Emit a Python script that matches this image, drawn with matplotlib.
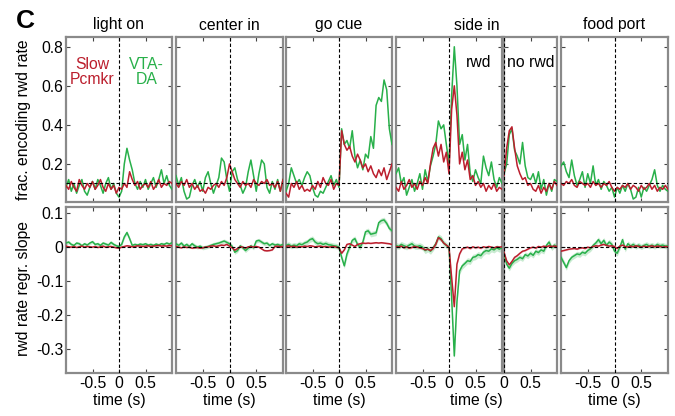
import numpy as np
import matplotlib
matplotlib.use("Agg")
import matplotlib.pyplot as plt

plt.rcParams['font.family'] = ['Liberation Sans', 'DejaVu Sans']

# ---------------- data ----------------
panel_titles = ["light on", "center in", "go cue", "side in", "food port"]
sub_labels = ["rwd", "no rwd"]
t_full = np.round(np.arange(-1.0, 1.0001, 0.05), 3)   # 41 samples
t_half = np.round(np.arange(0.0, 1.0001, 0.05), 3)    # 21 samples

# top row: fraction of neurons encoding reward rate
frac_green_light = [0.08, 0.12, 0.06, 0.10, 0.05, 0.09, 0.12, 0.06, 0.04, 0.08, 0.11, 0.07, 0.12, 0.09, 0.05, 0.10, 0.13, 0.07, 0.10, 0.05,
                    0.03, 0.06, 0.20, 0.28, 0.22, 0.17, 0.10, 0.07, 0.11, 0.08, 0.12, 0.07, 0.10, 0.13, 0.08, 0.12, 0.17, 0.10, 0.14, 0.09, 0.07]
frac_red_light = [0.09, 0.07, 0.11, 0.08, 0.06, 0.12, 0.09, 0.07, 0.10, 0.08, 0.11, 0.07, 0.09, 0.12, 0.08, 0.06, 0.10, 0.07, 0.09, 0.05,
                  0.08, 0.07, 0.10, 0.08, 0.16, 0.12, 0.09, 0.11, 0.07, 0.09, 0.10, 0.08, 0.11, 0.07, 0.09, 0.12, 0.08, 0.10, 0.09, 0.11, 0.10]
frac_green_center = [0.14, 0.09, 0.13, 0.06, 0.02, 0.03, 0.09, 0.12, 0.08, 0.11, 0.06, 0.13, 0.16, 0.10, 0.05, 0.09, 0.13, 0.23, 0.21, 0.12,
                     0.06, 0.16, 0.18, 0.12, 0.09, 0.05, 0.08, 0.16, 0.22, 0.14, 0.06, 0.15, 0.22, 0.20, 0.08, 0.05, 0.11, 0.07, 0.12, 0.06, 0.12]
frac_red_center = [0.10, 0.08, 0.11, 0.09, 0.12, 0.08, 0.10, 0.07, 0.09, 0.06, 0.07, 0.05, 0.08, 0.07, 0.09, 0.10, 0.08, 0.11, 0.09, 0.13,
                   0.20, 0.16, 0.12, 0.10, 0.08, 0.11, 0.09, 0.10, 0.08, 0.12, 0.10, 0.09, 0.11, 0.10, 0.12, 0.09, 0.10, 0.08, 0.11, 0.06, 0.12]
frac_green_go = [0.06, 0.10, 0.18, 0.14, 0.10, 0.12, 0.09, 0.13, 0.16, 0.14, 0.08, 0.04, 0.03, 0.06, 0.05, 0.08, 0.11, 0.14, 0.09, 0.12,
                 0.08, 0.38, 0.30, 0.32, 0.28, 0.37, 0.24, 0.18, 0.22, 0.17, 0.25, 0.23, 0.34, 0.28, 0.50, 0.54, 0.52, 0.63, 0.58, 0.38, 0.30]
frac_red_go = [0.05, 0.03, 0.10, 0.08, 0.11, 0.07, 0.09, 0.06, 0.07, 0.06, 0.09, 0.07, 0.11, 0.08, 0.13, 0.10, 0.09, 0.12, 0.07, 0.10,
               0.09, 0.37, 0.30, 0.27, 0.29, 0.24, 0.21, 0.25, 0.22, 0.18, 0.20, 0.16, 0.19, 0.15, 0.13, 0.17, 0.14, 0.18, 0.12, 0.16, 0.20]
frac_green_rwd = [0.15, 0.18, 0.10, 0.13, 0.04, 0.08, 0.12, 0.06, 0.10, 0.15, 0.07, 0.17, 0.11, 0.19, 0.24, 0.30, 0.42, 0.38, 0.40, 0.30,
                  0.20, 0.55, 0.80, 0.60, 0.30, 0.35, 0.22, 0.30, 0.15, 0.11, 0.17, 0.13, 0.10, 0.24, 0.18, 0.14, 0.21, 0.12, 0.08, 0.13, 0.10]
frac_red_rwd = [0.08, 0.06, 0.11, 0.07, 0.09, 0.12, 0.08, 0.10, 0.07, 0.11, 0.09, 0.13, 0.10, 0.20, 0.28, 0.31, 0.24, 0.30, 0.21, 0.26,
                0.15, 0.48, 0.60, 0.45, 0.20, 0.26, 0.17, 0.22, 0.12, 0.14, 0.09, 0.11, 0.08, 0.10, 0.06, 0.09, 0.07, 0.10, 0.06, 0.08, 0.07]
frac_green_norwd = [0.15, 0.20, 0.35, 0.38, 0.27, 0.24, 0.20, 0.31, 0.19, 0.13, 0.12, 0.15, 0.10, 0.16, 0.07, 0.12, 0.04, 0.10, 0.06, 0.12, 0.11]
frac_red_norwd = [0.14, 0.28, 0.37, 0.39, 0.28, 0.19, 0.15, 0.12, 0.13, 0.09, 0.10, 0.07, 0.06, 0.09, 0.05, 0.08, 0.06, 0.10, 0.07, 0.11, 0.09]
frac_green_food = [0.19, 0.21, 0.16, 0.13, 0.22, 0.14, 0.09, 0.12, 0.16, 0.08, 0.15, 0.10, 0.19, 0.09, 0.12, 0.07, 0.11, 0.09, 0.06, 0.08,
                   0.03, 0.08, 0.05, 0.09, 0.06, 0.10, 0.07, 0.02, 0.03, 0.08, 0.03, 0.08, 0.06, 0.09, 0.12, 0.17, 0.09, 0.06, 0.09, 0.07, 0.06]
frac_red_food = [0.10, 0.09, 0.11, 0.10, 0.12, 0.09, 0.08, 0.11, 0.10, 0.09, 0.10, 0.08, 0.11, 0.09, 0.10, 0.08, 0.10, 0.09, 0.11, 0.08,
                 0.06, 0.08, 0.07, 0.09, 0.08, 0.10, 0.07, 0.09, 0.08, 0.06, 0.09, 0.07, 0.08, 0.10, 0.07, 0.09, 0.06, 0.08, 0.07, 0.09, 0.07]

# bottom row: reward rate regression slope
slope_green_light = [0.012, 0.015, 0.008, 0.005, 0.012, 0.010, 0.004, 0.010, 0.006, 0.012, 0.016, 0.008, 0.010, 0.005, 0.012, 0.009, 0.006, 0.014, 0.008, 0.004,
                     0.002, 0.008, 0.030, 0.043, 0.025, 0.005, 0.008, 0.006, 0.009, 0.007, 0.010, 0.006, 0.008, 0.005, 0.009, 0.006, 0.010, 0.008, 0.012, 0.009, 0.013]
slope_red_light = [0.003, 0.001, 0.000, 0.002, -0.001, 0.001, 0.003, 0.000, 0.002, 0.001, 0.000, 0.002, -0.001, 0.001, 0.003, 0.000, 0.001, 0.002, 0.000, -0.002,
                   -0.003, 0.000, 0.002, 0.004, 0.003, 0.001, 0.002, 0.004, 0.003, 0.002, 0.003, 0.004, 0.002, 0.003, 0.004, 0.005, 0.003, 0.004, 0.003, 0.005, 0.004]
slope_green_center = [0.010, 0.005, 0.012, 0.003, 0.008, 0.002, 0.010, 0.004, 0.000, 0.003, -0.002, 0.000, 0.002, 0.005, 0.008, 0.010, 0.012, 0.015, 0.018, 0.014,
                      0.010, 0.002, -0.015, -0.010, 0.004, -0.002, -0.010, -0.003, 0.004, -0.002, 0.018, 0.020, 0.015, 0.010, 0.012, 0.005, 0.010, 0.006, 0.008, 0.005, 0.008]
slope_red_center = [0.002, 0.000, -0.002, 0.001, -0.001, 0.000, -0.003, -0.002, -0.001, -0.003, -0.002, 0.000, 0.001, 0.003, 0.004, 0.002, 0.004, 0.006, 0.005, 0.008,
                    0.003, -0.002, -0.009, -0.004, 0.001, 0.000, -0.003, 0.001, 0.002, 0.000, 0.002, 0.000, -0.005, -0.010, -0.011, -0.010, -0.008, 0.002, 0.003, 0.001, 0.002]
slope_green_go = [0.005, 0.008, 0.003, 0.006, 0.004, 0.010, 0.007, 0.012, 0.015, 0.022, 0.025, 0.015, 0.010, 0.012, 0.008, 0.011, 0.007, 0.006, 0.004, 0.003,
                  0.000, -0.030, -0.055, -0.020, 0.000, 0.020, 0.025, 0.008, 0.000, 0.015, 0.045, 0.048, 0.038, 0.040, 0.042, 0.072, 0.078, 0.080, 0.070, 0.055, 0.048]
slope_red_go = [0.002, 0.004, 0.001, 0.003, 0.000, 0.002, 0.001, 0.003, 0.002, 0.004, 0.003, 0.001, 0.002, 0.003, 0.001, 0.002, 0.000, 0.001, 0.002, 0.000,
                -0.002, -0.018, -0.008, 0.008, 0.010, 0.006, 0.002, 0.008, 0.010, 0.012, 0.011, 0.012, 0.011, 0.012, 0.013, 0.012, 0.013, 0.012, 0.011, 0.010, 0.008]
slope_green_rwd = [0.005, 0.002, 0.008, 0.004, 0.001, 0.006, 0.010, 0.003, 0.002, 0.004, 0.000, -0.010, -0.005, -0.012, -0.002, 0.010, 0.030, 0.025, 0.012, 0.005,
                   0.000, -0.150, -0.320, -0.160, -0.070, -0.055, -0.048, -0.040, -0.042, -0.030, -0.028, -0.022, -0.025, -0.015, -0.010, -0.012, -0.005, -0.008, -0.002, -0.006, -0.002]
slope_red_rwd = [0.002, 0.000, 0.003, -0.002, 0.001, -0.003, -0.001, 0.002, 0.000, -0.002, -0.004, -0.008, -0.006, -0.010, -0.004, 0.008, 0.028, 0.022, 0.012, 0.006,
                 0.000, -0.090, -0.175, -0.050, -0.020, -0.005, -0.002, 0.000, -0.004, 0.001, -0.002, 0.000, -0.003, 0.001, -0.001, 0.002, 0.000, -0.002, 0.001, 0.000, 0.001]
slope_green_norwd = [-0.020, -0.050, -0.062, -0.048, -0.040, -0.036, -0.030, -0.034, -0.022, -0.026, -0.018, -0.024, -0.012, -0.016, -0.008, -0.012, 0.005, 0.015, -0.002, 0.006, 0.002]
slope_red_norwd = [-0.015, -0.040, -0.052, -0.042, -0.030, -0.025, -0.018, -0.012, -0.010, -0.006, -0.002, 0.000, -0.003, 0.002, 0.000, 0.003, 0.001, 0.004, 0.002, 0.003, 0.002]
slope_green_food = [-0.030, -0.045, -0.060, -0.040, -0.030, -0.025, -0.020, -0.022, -0.015, -0.018, -0.010, -0.005, 0.005, 0.012, 0.022, 0.010, 0.020, 0.005, 0.015, 0.008,
                    -0.012, -0.018, 0.000, 0.022, -0.006, 0.010, 0.003, 0.008, 0.002, 0.006, 0.001, 0.005, 0.008, 0.003, 0.006, 0.002, 0.008, 0.004, 0.006, 0.003, 0.004]
slope_red_food = [-0.012, -0.010, -0.008, -0.006, -0.005, -0.004, -0.006, -0.003, -0.002, -0.004, 0.000, -0.002, 0.002, 0.004, 0.003, 0.006, 0.008, 0.005, 0.003, 0.004,
                  0.002, -0.004, 0.003, 0.006, 0.002, 0.000, 0.003, 0.001, 0.004, 0.002, 0.000, 0.003, 0.001, 0.002, 0.004, 0.001, 0.003, 0.002, 0.000, 0.002, 0.001]

# approximate s.e.m. band half-widths per panel
sem_green = [0.005, 0.006, 0.008, 0.009, 0.008, 0.008]
sem_red = [0.002, 0.002, 0.002, 0.003, 0.002, 0.002]

top_green = [frac_green_light, frac_green_center, frac_green_go, frac_green_rwd, frac_green_norwd, frac_green_food]
top_red = [frac_red_light, frac_red_center, frac_red_go, frac_red_rwd, frac_red_norwd, frac_red_food]
bot_green = [slope_green_light, slope_green_center, slope_green_go, slope_green_rwd, slope_green_norwd, slope_green_food]
bot_red = [slope_red_light, slope_red_center, slope_red_go, slope_red_rwd, slope_red_norwd, slope_red_food]
times = [t_full, t_full, t_full, t_full, t_half, t_full]
xlims = [(-1, 1), (-1, 1), (-1, 1), (-1, 1), (0, 1), (-1, 1)]

# ---------------- style / layout ----------------
RED = '#bb1e2d'
GREEN = '#28b04a'
W, H = 675, 416
cols_px = [(66, 172), (176, 283), (286, 392), (396, 502), (504, 557), (561, 668)]
top_px = (37, 202)
bot_px = (207, 373)
FS = 11.3

fig = plt.figure(figsize=(W / 100, H / 100), dpi=100)


def make_ax(c, r):
    x0, x1 = c
    y0, y1 = r
    return fig.add_axes([x0 / W, 1 - y1 / H, (x1 - x0) / W, (y1 - y0) / H])


def style(ax):
    for s in ax.spines.values():
        s.set_color('#8a8a8a')
        s.set_linewidth(1.6)
    ax.tick_params(direction='in', length=3, width=0.8, color='#444444',
                   top=True, right=True, labelsize=FS, pad=2)


for i in range(6):
    t = times[i]
    # top row
    ax = make_ax(cols_px[i], top_px)
    ax.plot(t, top_green[i], color=GREEN, lw=1.1, zorder=3)
    ax.plot(t, top_red[i], color=RED, lw=1.1, zorder=4)
    ax.axhline(0.1, color='k', lw=0.8, ls=(0, (3, 2)), zorder=5)
    ax.axvline(0, color='k', lw=0.8, ls=(0, (3, 2)), zorder=5)
    ax.set_xlim(*xlims[i])
    ax.set_ylim(0.005, 0.85)
    ax.set_yticks([0.2, 0.4, 0.6, 0.8])
    ax.set_xticks([0, 0.5] if i == 4 else [-0.5, 0, 0.5])
    ax.set_xticklabels([])
    if i == 0:
        ax.set_yticklabels(['0.2', '0.4', '0.6', '0.8'])
    else:
        ax.set_yticklabels([])
    style(ax)
    if i == 0:
        ax.text(-0.5, 0.67, "Slow\nPcmkr", color=RED, fontsize=FS, ha='center', va='center', linespacing=1.0)
        ax.text(0.52, 0.67, "VTA-\nDA", color=GREEN, fontsize=FS, ha='center', va='center', linespacing=1.0)
    if i == 3:
        ax.text(0.56, 0.72, sub_labels[0], fontsize=FS, ha='center', va='center')
    if i == 4:
        ax.text(0.5, 0.72, sub_labels[1], fontsize=FS, ha='center', va='center')

    # bottom row
    ax = make_ax(cols_px[i], bot_px)
    g = np.array(bot_green[i])
    rr = np.array(bot_red[i])
    ax.fill_between(t, rr - sem_red[i], rr + sem_red[i], color=RED, alpha=0.2, lw=0, zorder=2)
    ax.fill_between(t, g - sem_green[i], g + sem_green[i], color=GREEN, alpha=0.25, lw=0, zorder=2)
    ax.plot(t, g, color=GREEN, lw=1.1, zorder=3)
    ax.plot(t, rr, color=RED, lw=1.1, zorder=4)
    ax.axhline(0.0, color='k', lw=0.8, ls=(0, (3, 2)), zorder=5)
    ax.axvline(0, color='k', lw=0.8, ls=(0, (3, 2)), zorder=5)
    ax.set_xlim(*xlims[i])
    ax.set_ylim(-0.37, 0.118)
    ax.set_yticks([0.1, 0.0, -0.1, -0.2, -0.3])
    if i == 4:
        ax.set_xticks([0, 0.5])
        ax.set_xticklabels(['0', '0.5'])
    else:
        ax.set_xticks([-0.5, 0, 0.5])
        ax.set_xticklabels(['-0.5', '0', '0.5'])
    if i == 0:
        ax.set_yticklabels(['0.1', '0', '-0.1', '-0.2', '-0.3'])
    else:
        ax.set_yticklabels([])
    style(ax)

# column titles and x labels
centers = [119, 229.5, 339, 476.5, 614.5]
for name, cx in zip(panel_titles, centers):
    fig.text(cx / W, 1 - 25 / H, name, fontsize=FS, ha='center', va='center')
    fig.text(cx / W, 1 - 401 / H, "time (s)", fontsize=FS, ha='center', va='center')

fig.text(24 / W, 1 - 120 / H, "frac. encoding rwd rate", rotation=90, fontsize=FS, ha='center', va='center')
fig.text(24 / W, 1 - 289 / H, "rwd rate regr. slope", rotation=90, fontsize=FS, ha='center', va='center')
fig.text(25 / W, 1 - 21 / H, "C", fontsize=19, fontweight='bold', ha='center', va='center')

fig.savefig("out.png", dpi=100)
